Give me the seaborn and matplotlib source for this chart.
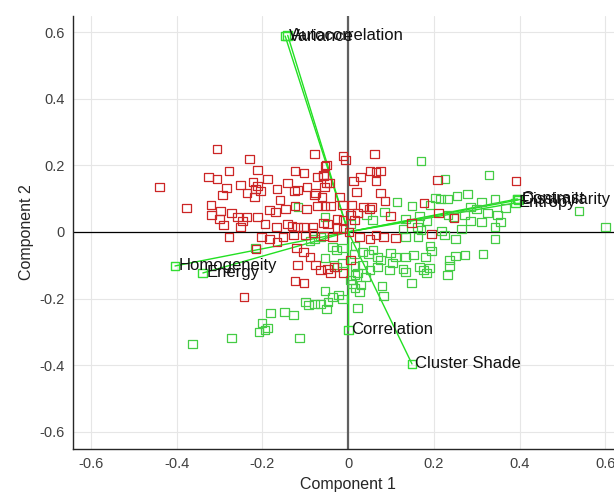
import numpy as np
import pandas as pd
import matplotlib
matplotlib.use("Agg")
import matplotlib.pyplot as plt
import seaborn as sns

# observation scores, group 1 (red) and group 2 (green)
red_x = [-0.306, -0.441, -0.231, -0.278, -0.212, -0.325, -0.306, -0.283, -0.252, -0.222,
         -0.212, -0.217, -0.189, -0.236, -0.219, -0.205, -0.294, -0.378, -0.320, -0.297,
         -0.318, -0.301, -0.290, -0.273, -0.259, -0.247, -0.236, -0.252, -0.278, -0.212,
         -0.184, -0.170, -0.147, -0.124, -0.194, -0.168, -0.142, -0.131, -0.119, -0.105,
         -0.082, -0.058, -0.124, -0.103, -0.142, -0.119, -0.096, -0.166, -0.159, -0.072,
         -0.058, -0.051, -0.044, -0.079, -0.054, -0.058, -0.012, -0.007, 0.061, 0.051,
         0.075, 0.028, 0.012, 0.019, 0.075, 0.086, -0.079, -0.061, -0.042, -0.021,
         -0.072, -0.054, -0.026, -0.012, 0.005, 0.035, 0.049, 0.021, 0.014, 0.098,
         -0.049, -0.026, -0.012, 0.002, -0.203, -0.184, -0.166, -0.152, -0.128, -0.100,
         -0.082, -0.058, -0.037, 0.026, 0.051, 0.082, -0.215, -0.121, -0.105, -0.089,
         -0.077, -0.065, -0.049, -0.033, -0.119, -0.124, -0.103, -0.042, -0.012, 0.005,
         -0.243, 0.065, 0.065, 0.054, 0.065, 0.110, 0.208, 0.177, 0.210, 0.247,
         0.147, 0.194, 0.392, -0.051, -0.098, -0.014, 0.009, -0.077, -0.126, -0.056]
red_y = [0.249, 0.135, 0.219, 0.183, 0.186, 0.165, 0.159, 0.132, 0.141, 0.150,
         0.138, 0.129, 0.159, 0.117, 0.105, 0.123, 0.111, 0.072, 0.081, 0.063,
         0.051, 0.039, 0.021, 0.057, 0.045, 0.033, 0.045, 0.015, -0.015, 0.045,
         0.066, 0.060, 0.069, 0.078, 0.024, 0.015, 0.024, 0.018, 0.015, 0.015,
         0.015, 0.027, 0.183, 0.177, 0.147, 0.126, 0.135, 0.129, 0.096, 0.165,
         0.168, 0.147, 0.147, 0.234, 0.198, 0.171, 0.228, 0.216, 0.234, 0.183,
         0.183, 0.165, 0.153, 0.120, 0.117, 0.093, 0.111, 0.105, 0.078, 0.105,
         0.078, 0.078, 0.039, 0.036, 0.051, 0.075, 0.069, 0.057, 0.036, 0.048,
         0.024, 0.012, 0.009, 0.000, -0.015, -0.021, -0.030, -0.015, -0.009, -0.009,
         -0.003, -0.012, -0.015, -0.015, -0.021, -0.015, -0.051, -0.048, -0.060, -0.075,
         -0.099, -0.114, -0.111, -0.105, -0.099, -0.147, -0.153, -0.123, -0.123, -0.084,
         -0.195, 0.180, 0.153, 0.075, -0.009, -0.018, 0.156, 0.087, 0.057, 0.042,
         0.027, -0.006, 0.153, 0.201, 0.069, 0.081, 0.081, 0.117, 0.123, 0.135]

green_x = [0.170, 0.329, 0.226, 0.278, 0.254, 0.203, 0.215, 0.231, 0.343, 0.311,
           0.325, 0.114, 0.149, 0.191, 0.285, 0.299, 0.367, 0.395, 0.133, 0.166,
           0.184, 0.233, 0.245, 0.271, 0.285, 0.311, 0.348, 0.355, 0.343, 0.128,
           0.161, 0.170, 0.217, 0.264, 0.224, 0.250, 0.133, 0.163, 0.343, 0.191,
           0.194, 0.180, 0.110, 0.133, 0.152, 0.273, 0.250, 0.236, 0.315, 0.058,
           0.075, 0.068, 0.103, 0.096, 0.128, 0.133, 0.166, 0.175, 0.189, 0.182,
           0.236, 0.231, 0.079, 0.147, 0.082, 0.539, 0.600, -0.089, -0.079, -0.065,
           -0.037, -0.028, -0.014, 0.016, 0.014, 0.033, 0.047, -0.054, -0.033, -0.014,
           0.016, 0.033, 0.051, 0.016, 0.040, 0.005, 0.009, 0.016, 0.030, 0.026,
           -0.054, -0.037, -0.023, -0.014, -0.047, -0.100, -0.093, -0.079, -0.065, -0.051,
           -0.149, -0.128, 0.021, -0.201, -0.189, -0.194, -0.208, -0.114, -0.217, -0.273,
           -0.364, -0.117, -0.054, 0.005, 0.068, 0.098, -0.026, 0.021, -0.182, 0.042,
           0.056, 0.084]
green_y = [0.213, 0.171, 0.159, 0.114, 0.108, 0.102, 0.099, 0.099, 0.099, 0.090,
           0.057, 0.090, 0.078, 0.081, 0.075, 0.069, 0.072, 0.099, 0.039, 0.048,
           0.033, 0.051, 0.045, 0.051, 0.033, 0.030, 0.051, 0.030, 0.015, 0.009,
           0.015, 0.006, 0.003, 0.009, -0.009, -0.021, -0.015, -0.015, -0.021, -0.042,
           -0.057, -0.075, -0.075, -0.075, -0.069, -0.069, -0.072, -0.084, -0.066, -0.054,
           -0.084, -0.105, -0.093, -0.114, -0.111, -0.120, -0.105, -0.114, -0.108, -0.123,
           -0.102, -0.129, -0.162, -0.153, -0.192, 0.063, 0.015, -0.027, -0.021, -0.015,
           -0.045, -0.054, -0.048, -0.042, -0.066, -0.060, -0.066, -0.078, -0.099, -0.093,
           -0.102, -0.099, -0.114, -0.129, -0.135, -0.144, -0.156, -0.168, -0.159, -0.180,
           -0.177, -0.195, -0.189, -0.201, -0.210, -0.210, -0.219, -0.216, -0.216, -0.231,
           -0.240, -0.249, -0.228, -0.273, -0.288, -0.294, -0.300, -0.318, -0.048, -0.318,
           -0.336, 0.075, 0.045, 0.024, -0.075, -0.063, -0.105, -0.123, -0.243, 0.051,
           0.036, 0.060]

# variable loadings
var_names = ["Variance", "Autocorrelation", "Dissimilarity", "Contrast", "Entropy",
             "Homogeneity", "Energy", "Correlation", "Cluster Shade"]
var_x = [-0.147, -0.141, 0.397, 0.395, 0.390, -0.404, -0.339, 0.000, 0.149]
var_y = [0.588, 0.590, 0.096, 0.099, 0.087, -0.102, -0.123, -0.294, -0.396]

sns.set_style("white")
plt.rcParams["font.family"] = ["Liberation Sans", "DejaVu Sans"]

fig = plt.figure(figsize=(6.14, 5.01), dpi=100)
ax = fig.add_axes([0.119, 0.104, 0.896, 0.864])

# grid and origin axes
ax.grid(True, color="#e6e6e6", linewidth=0.8)
ax.set_axisbelow(True)
ax.axvline(0, color="#606060", linewidth=1.6, zorder=1)
ax.axhline(0, color="black", linewidth=0.9, zorder=1)

# loading vectors
for vx, vy in zip(var_x, var_y):
    ax.plot([0, vx], [0, vy], color="#22e022", linewidth=1.0, zorder=2)

obs_g = pd.DataFrame({"x": green_x, "y": green_y})
obs_r = pd.DataFrame({"x": red_x, "y": red_y})
sns.scatterplot(data=obs_g, x="x", y="y", marker="s", s=40, facecolors="none",
                edgecolors="#45cc45", linewidth=0.9, ax=ax, zorder=3)
sns.scatterplot(data=obs_r, x="x", y="y", marker="s", s=40, facecolors="none",
                edgecolors="#cc2626", linewidth=0.9, ax=ax, zorder=4)

vars_df = pd.DataFrame({"x": var_x, "y": var_y})
sns.scatterplot(data=vars_df, x="x", y="y", marker="s", s=40, facecolors="none",
                edgecolors="#33dd33", linewidth=1.0, ax=ax, zorder=5)
for name, vx, vy in zip(var_names, var_x, var_y):
    ax.text(vx + 0.008, vy, name, fontsize=12, color="#111111",
            ha="left", va="center", zorder=6)

ax.set_xlim(-0.642, 0.642)
ax.set_ylim(-0.651, 0.648)
ticks = [-0.6, -0.4, -0.2, 0, 0.2, 0.4, 0.6]
ax.set_xticks(ticks)
ax.set_yticks(ticks)
ax.set_xticklabels(["-0.6", "-0.4", "-0.2", "0", "0.2", "0.4", "0.6"])
ax.set_yticklabels(["-0.6", "-0.4", "-0.2", "0", "0.2", "0.4", "0.6"])
ax.tick_params(direction="in", length=4, width=0.8, colors="#262626",
               labelcolor="#404040", labelsize=10.5, pad=6)
ax.set_xlabel("Component 1", fontsize=11.5, color="#262626", labelpad=4)
ax.set_ylabel("Component 2", fontsize=11.5, color="#262626", labelpad=4)

for side in ["top", "right"]:
    ax.spines[side].set_visible(False)
for side in ["left", "bottom"]:
    ax.spines[side].set_color("#262626")
    ax.spines[side].set_linewidth(1.0)

fig.savefig("out.png", dpi=100)
